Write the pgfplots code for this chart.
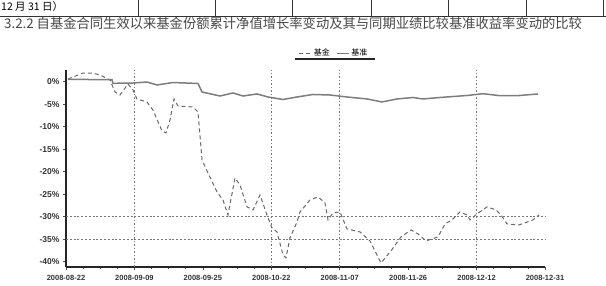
\documentclass[border=0pt]{standalone}
\usepackage{fontspec}
\setmainfont{Liberation Sans}
\newfontfamily\cjk{Noto Sans CJK SC}
\usepackage{pgfplots}
\pgfplotsset{compat=1.18}
\definecolor{bench}{RGB}{125,125,125}
\definecolor{fund}{RGB}{105,105,105}
\definecolor{gridc}{RGB}{120,120,120}
\begin{document}
\begin{tikzpicture}
\useasboundingbox (0pt,-286pt) rectangle (606pt,0pt);
% table remnant at top
\draw[line width=1.2pt, black!80] (0pt,-16.5pt) -- (606pt,-16.5pt);
\foreach \xx in {138,215,292,371,448,526,603} \draw[line width=0.8pt,black!80] (\xx pt,0pt) -- (\xx pt,-16.5pt);
\node[anchor=base west, inner sep=0, font=\cjk\fontsize{10.5}{10.5}\selectfont] at (1pt,-11pt) {12 月 31 日）};
\node[anchor=base west, inner sep=0, font=\cjk\fontsize{13.3}{13.3}\selectfont, text=black!72] at (4pt,-29pt) {3.2.2 自基金合同生效以来基金份额累计净值增长率变动及其与同期业绩比较基准收益率变动的比较};
\begin{axis}[
  at={(66pt,-267pt)}, anchor=south west,
  scale only axis, width=479pt, height=197pt,
  xmin=0, xmax=7, ymin=-41.2, ymax=2.6,
  axis lines=left,
  axis line style={-, line width=1.6pt, black!85},
  xtick={0,...,7},
  xticklabels={2008-08-22,2008-09-09,2008-09-25,2008-10-22,2008-11-07,2008-11-26,2008-12-12,2008-12-31},
  minor x tick num=3,
  ytick={0,-5,...,-40},
  yticklabels={0\%,-5\%,-10\%,-15\%,-20\%,-25\%,-30\%,-35\%,-40\%},
  tick align=outside,
  major tick length=3pt, minor tick length=2pt,
  tick style={black!70, line width=0.6pt},
  xticklabel style={font=\fontsize{7.5}{8}\selectfont\bfseries, text=black!80, yshift=-2pt},
  yticklabel style={font=\fontsize{8.5}{9}\selectfont\bfseries, text=black!80},
  legend style={at={(0.56,1.085)}, anchor=center, draw=none, fill=none,
     font=\cjk\fontsize{8}{8}\selectfont, legend columns=2,
     /tikz/every even column/.append style={column sep=4pt}},
  legend image code/.code={\draw[#1] (0pt,0pt) -- (12pt,0pt);},
  clip=false,
]
% grid lines
\foreach \gx in {1,3,4,6} {
  \edef\temp{\noexpand\draw[gridc, line width=0.7pt, dash pattern=on 1.5pt off 2pt] (axis cs:\gx,-41.2) -- (axis cs:\gx,2.6);}
  \temp
}
\draw[gridc, line width=0.7pt, dash pattern=on 2pt off 1.8pt] (axis cs:0,-30) -- (axis cs:7,-30);
\draw[gridc, line width=0.7pt, dash pattern=on 2pt off 1.8pt] (axis cs:0,-35) -- (axis cs:7,-35);
\addplot[fund, line width=1pt, dash pattern=on 4pt off 3pt] coordinates {
(0.029,0.6) (0.248,1.93) (0.380,1.93) (0.497,1.49) (0.643,0.38) (0.716,-2.29)
(0.789,-2.96) (0.906,-0.51) (0.979,-1.84) (1.037,-3.84) (1.183,-4.51) (1.271,-6.29)
(1.403,-10.96) (1.461,-11.40) (1.520,-8.51) (1.578,-3.84) (1.637,-5.40) (1.856,-5.62)
(1.929,-6.73) (1.988,-17.40) (2.061,-19.84) (2.207,-24.51) (2.294,-26.29) (2.367,-29.62)
(2.470,-21.40) (2.543,-22.96) (2.645,-27.84) (2.733,-28.51) (2.835,-25.18) (2.937,-29.62)
(3.010,-32.51) (3.083,-33.40) (3.171,-38.51) (3.215,-39.18) (3.273,-34.73) (3.376,-31.18)
(3.420,-28.96) (3.566,-26.29) (3.683,-25.62) (3.785,-26.96) (3.829,-30.73) (3.902,-29.18)
(4.004,-28.96) (4.106,-32.73) (4.296,-33.40) (4.442,-35.40) (4.603,-40.29) (4.749,-37.62)
(4.895,-34.51) (5.042,-32.96) (5.144,-33.85) (5.261,-35.40) (5.436,-34.51) (5.539,-31.62)
(5.641,-30.73) (5.758,-28.96) (5.860,-29.62) (5.904,-30.73) (6.006,-29.40) (6.152,-27.84)
(6.284,-28.51) (6.357,-29.62) (6.445,-31.62) (6.620,-31.85) (6.825,-30.73) (6.912,-29.62)
};
\addlegendentry{基金}
\addplot[bench, line width=1.5pt] coordinates {
(0.029,0.53) (0.672,0.44) (0.687,-0.36) (0.979,-0.29) (1.183,-0.07) (1.330,-0.73)
(1.564,-0.18) (1.929,-0.40) (1.988,-2.29) (2.250,-3.18) (2.440,-2.51) (2.587,-3.18)
(2.792,-2.73) (2.952,-3.40) (3.171,-3.96) (3.376,-3.40) (3.609,-2.84) (3.858,-2.96)
(4.106,-3.40) (4.399,-3.84) (4.618,-4.51) (4.837,-3.84) (5.071,-3.51) (5.217,-3.84)
(5.466,-3.51) (5.860,-3.07) (6.094,-2.67) (6.342,-3.11) (6.591,-3.11) (6.898,-2.73)
};
\addlegendentry{基准}
\end{axis}
\draw[line width=1.6pt, black!85] (295pt,-59pt) -- (375pt,-59pt);
\end{tikzpicture}
\end{document}
